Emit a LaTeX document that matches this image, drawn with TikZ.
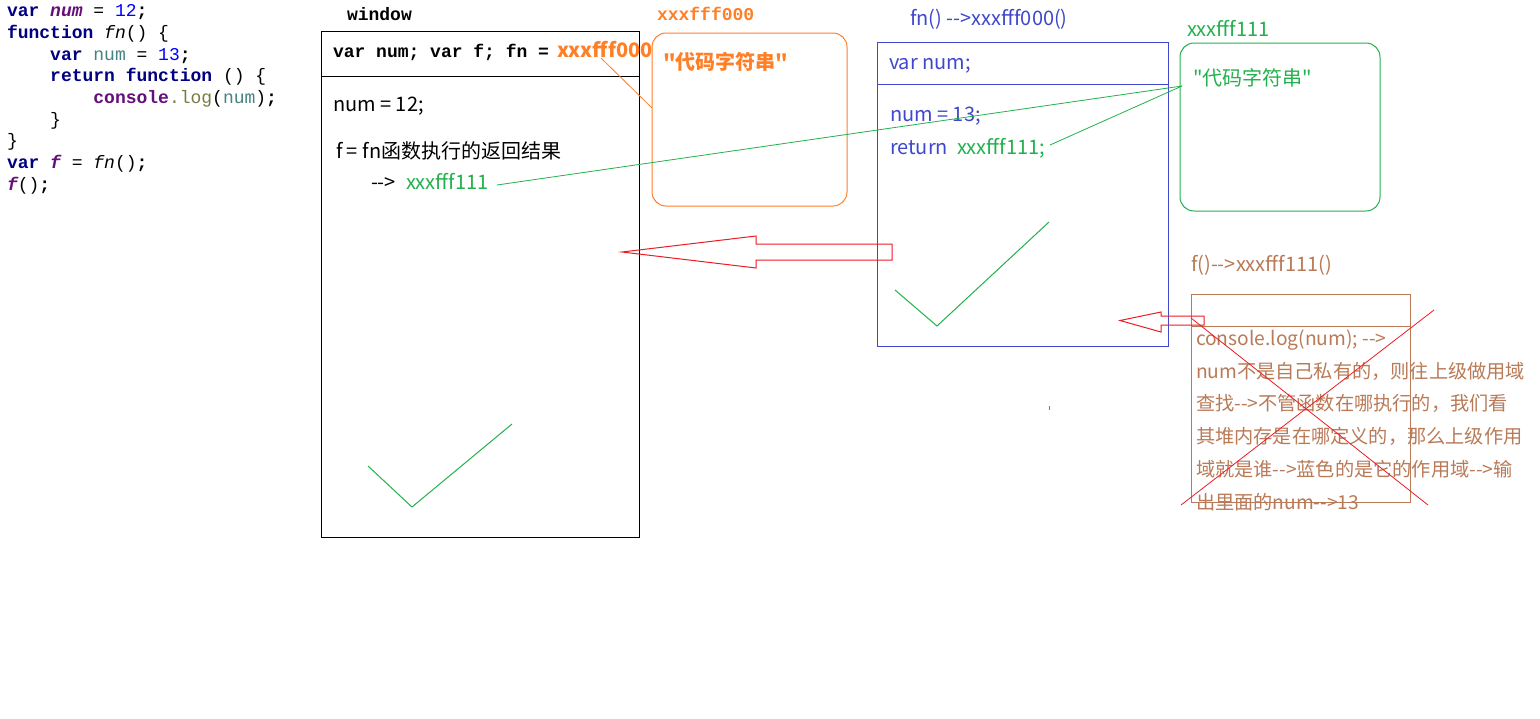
\documentclass[tikz,border=0pt]{standalone}
\usepackage{fontspec}
\newfontfamily\cjk{Noto Sans CJK SC}
\newfontfamily\mono{Liberation Mono}
\definecolor{porange}{HTML}{FF7F27}
\definecolor{pgreen}{HTML}{22B14C}
\definecolor{pblue}{HTML}{3F48CC}
\definecolor{pred}{HTML}{ED1C24}
\definecolor{pbrown}{HTML}{B97A57}
\definecolor{cnavy}{HTML}{000080}
\definecolor{cpurple}{HTML}{660E7A}
\definecolor{cblue}{HTML}{0000FF}
\definecolor{cteal}{HTML}{458383}
\definecolor{colive}{HTML}{7A7A43}
\newcommand\ckw[1]{{\bfseries\color{cnavy}#1}}
\newcommand\cpi[1]{{\bfseries\itshape\color{cpurple}#1}}
\newcommand\cpb[1]{{\bfseries\color{cpurple}#1}}
\newcommand\cnum[1]{{\color{cblue}#1}}
\newcommand\cvar[1]{{\color{cteal}#1}}
\newcommand\clog[1]{{\color{colive}#1}}
\newcommand\cit[1]{{\itshape #1}}
\begin{document}
\begin{tikzpicture}[x=1pt,y=-1pt,
  txt/.style={inner sep=0pt, outer sep=0pt, anchor=base west},
  code/.style={txt, font=\mono\fontsize{18}{20}\selectfont},
  sans/.style={txt, font=\cjk\fontsize{20}{24}\selectfont},
  sansb/.style={txt, font=\cjk\bfseries\fontsize{20}{24}\selectfont},
  note/.style={txt, font=\cjk\fontsize{19.2}{23}\selectfont, text=pbrown},
  box/.style={draw, line width=1pt, anchor=north west, inner sep=0pt, outer sep=0pt},
  ln/.style={line width=1pt}]
\useasboundingbox[fill=white] (0,0) rectangle (1540,718);

% ---- code ----
\node[code] (c1) at (7,16) {\ckw{var} \cpi{num} = \cnum{12}\textbf{;}};
\node[code] (c2) at (7,38) {\ckw{function} \cit{fn}() \{};
\node[code] (c3) at (50.2,60) {\ckw{var} \cvar{num} = \cnum{13}\textbf{;}};
\node[code] (c4) at (50.2,81.5) {\ckw{return function} () \{};
\node[code] (c5) at (93.4,103) {\cpb{console}\clog{.log}(\cvar{num})\textbf{;}};
\node[code] (c6) at (50.2,125) {\}};
\node[code] (c7) at (7,146.5) {\}};
\node[code] (c8) at (7,168) {\ckw{var} \cpi{f} = \cit{fn}()\textbf{;}};
\node[code] (c9) at (7,190) {\cpi{f}()\textbf{;}};

% ---- window ----
\node[code] (wlabel) at (347,20) {\textbf{window}};
\node[box, minimum width=318pt, minimum height=506pt] (win) at (321,31) {};
\draw[ln] (321,76) -- (639,76);
\node[code] (whead) at (333,57) {\textbf{var num; var f; fn =}};
\node[sansb, text=porange] (waddr) at (557,57) {xxxfff000};
\node[sans] (n12) at (333,111) {num = 12;};
\node[sans] (fret) at (336,158) {f = fn函数执行的返回结果};
\node[sans] (arr1) at (371,189) {-{}->};
\node[sans, text=pgreen] (g111a) at (406,189) {xxxfff111};
\draw[ln, pgreen] (368,466) -- (412,507) -- (512,424);

% ---- orange heap ----
\node[code, text=porange] (olabel) at (657,20) {\textbf{xxxfff000}};
\node[box, draw=porange, rounded corners=14pt, minimum width=195pt, minimum height=173pt] (obox) at (652,33) {};
\node[sansb, text=porange] (ostr) at (663,69) {"代码字符串"};
\coordinate (oA) at (601,58);
\coordinate (oB) at (652,108);
\draw[line width=0.8pt, porange] (oA) -- (oB);

% ---- blue scope ----
\node[sans, text=pblue] (blabel) at (910,25) {fn() -{}->xxxfff000()};
\node[box, draw=pblue, minimum width=291pt, minimum height=304pt] (bbox) at (877,42) {};
\draw[ln, pblue] (877,84) -- (1168,84);
\node[sans, text=pblue] (bvar) at (889,69) {var num;};
\node[sans, text=pblue] (b13) at (890,121) {num = 13;};
\node[sans, text=pblue] (bret) at (890,154) {return};
\node[sans, text=pgreen] (g111b) at (957,154) {xxxfff111;};
\draw[ln, pgreen] (895,290) -- (937,326) -- (1049,222);

% ---- green heap ----
\node[sans, text=pgreen] (glabel) at (1187,36) {xxxfff111};
\node[box, draw=pgreen, rounded corners=14pt, minimum width=200pt, minimum height=168pt] (gbox) at (1180,43) {};
\node[sans, text=pgreen] (gstr) at (1193,85) {"代码字符串"};
\coordinate (gA) at (497,185);
\coordinate (gB) at (1050,145);
\coordinate (gT) at (1182,86);
\draw[line width=0.8pt, pgreen] (gA) -- (gT);
\draw[line width=0.8pt, pgreen] (gB) -- (gT);
\fill[pgreen] (1048.5,406) rectangle (1049.8,410);

% ---- big red arrow ----
\draw[ln, pred] (622,252) -- (756,236) -- (756,244) -- (892,244) -- (892,260) -- (756,260) -- (756,268) -- cycle;

% ---- brown scope ----
\node[sans, text=pbrown] (brlabel) at (1191,271) {f()-{}->xxxfff111()};
\node[box, draw=pbrown, minimum width=219pt, minimum height=208pt] (brbox) at (1191,294) {};
\draw[ln, pbrown] (1191,326) -- (1410,326);
\node[note] (t1) at (1196,345) {console.log(num); -{}->};
\node[note] (t2) at (1196,378) {num不是自己私有的，则往上级做用域};
\node[note] (t3) at (1196,410) {查找-{}->不管函数在哪执行的，我们看};
\node[note] (t4) at (1196,443) {其堆内存是在哪定义的，那么上级作用};
\node[note] (t5) at (1196,476) {域就是谁-{}->蓝色的是它的作用域-{}->输};
\node[note] (t6) at (1196,509) {出里面的num-{}->13};

% ---- small red arrow ----
\draw[ln, pred] (1120,320.5) -- (1161,312) -- (1161,316) -- (1204,316) -- (1204,325) -- (1161,325) -- (1161,332) -- cycle;

% ---- red cross ----
\draw[line width=0.8pt, pred] (1191,318) -- (1428,505);
\draw[line width=0.8pt, pred] (1434,310) -- (1181,505);
\end{tikzpicture}
\end{document}
